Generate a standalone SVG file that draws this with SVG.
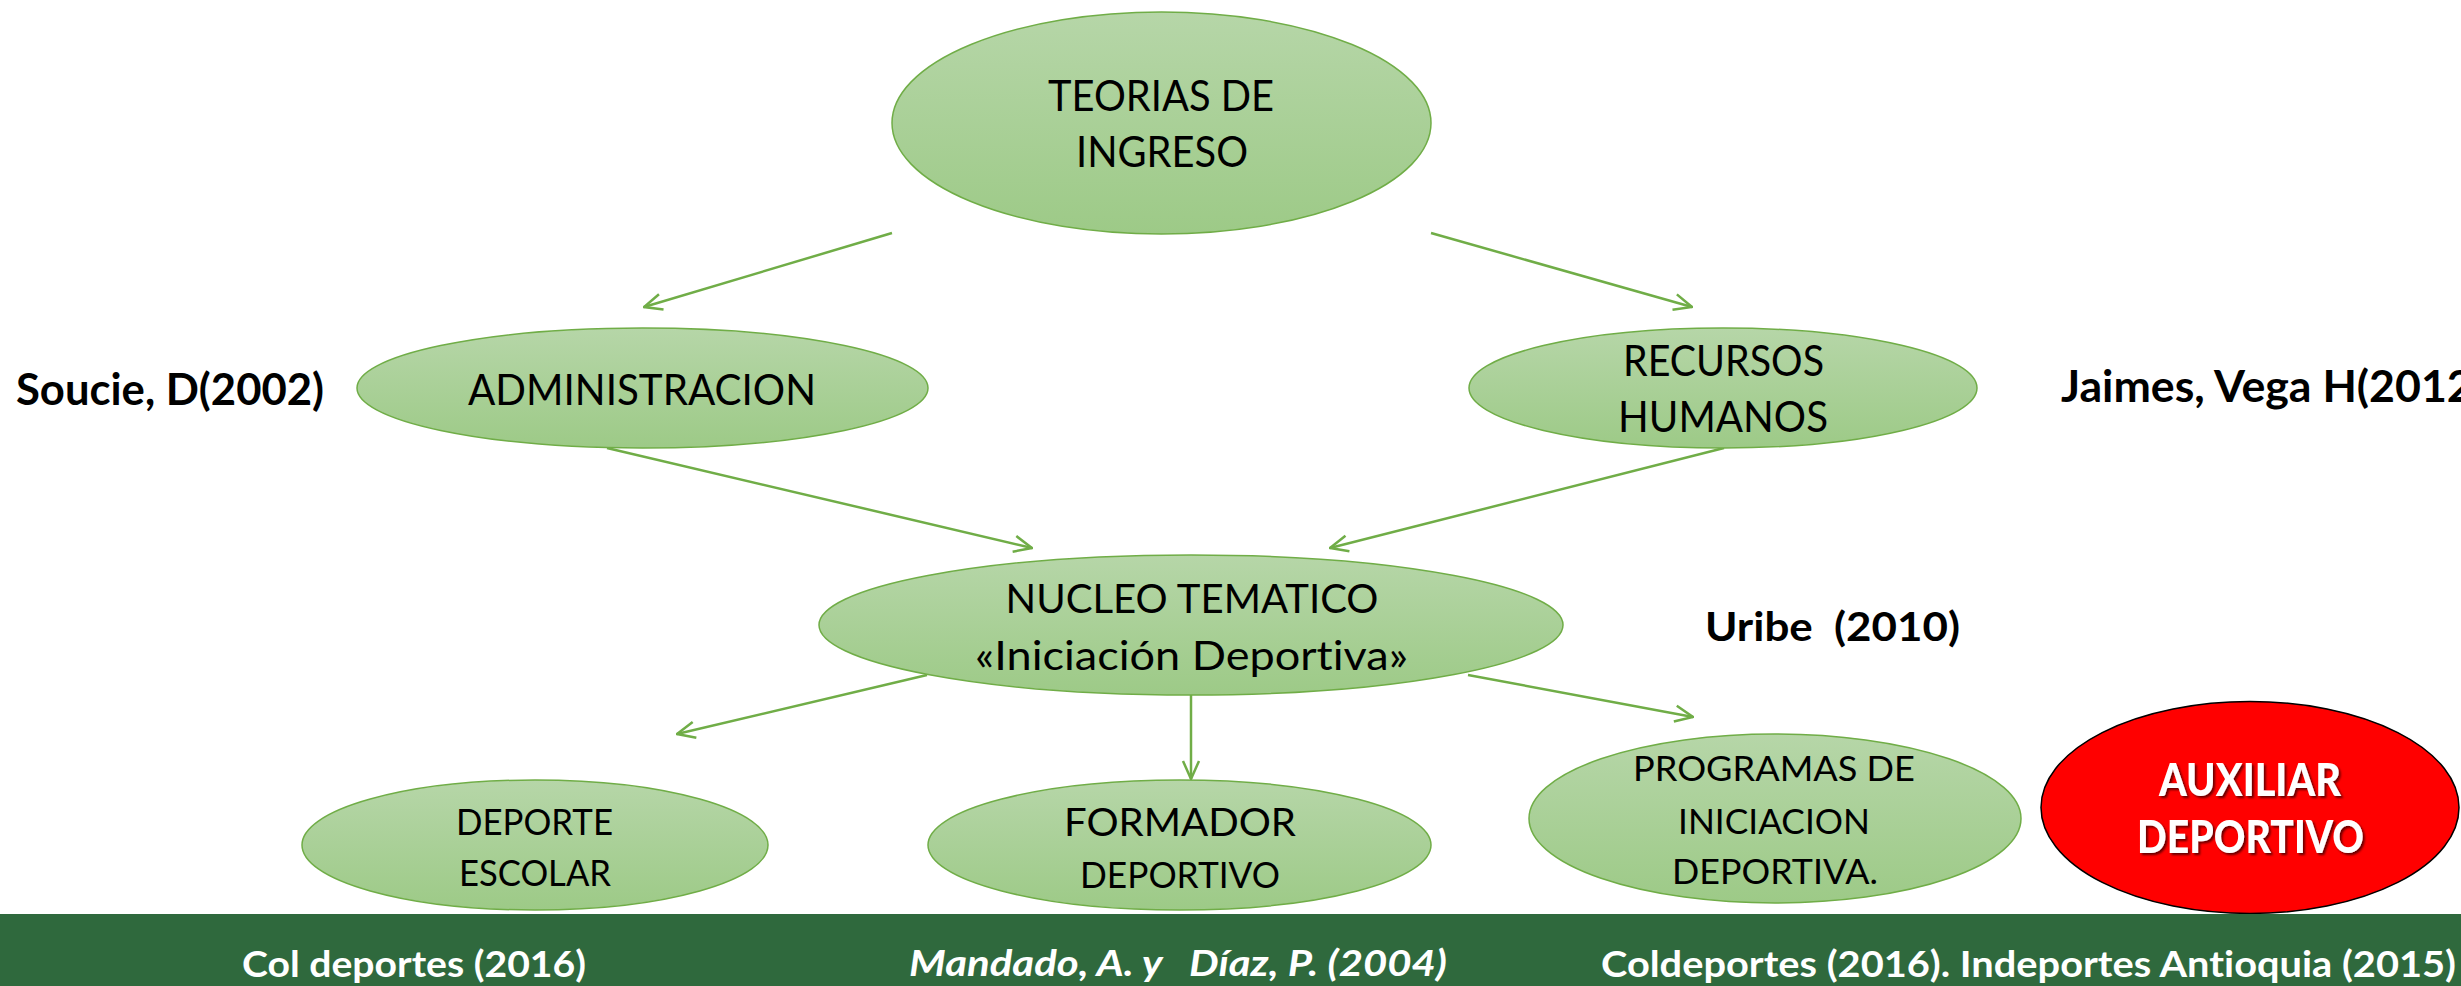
<svg xmlns="http://www.w3.org/2000/svg" width="2461" height="986" viewBox="0 0 2461 986">
<defs>
<linearGradient id="gfill" x1="0" y1="0" x2="0" y2="1">
<stop offset="0" stop-color="#B6D6A8"/>
<stop offset="1" stop-color="#9DCA87"/>
</linearGradient>
<marker id="arr" viewBox="0 0 20 20" refX="19" refY="10" markerWidth="20" markerHeight="20" markerUnits="userSpaceOnUse" orient="auto">
<path d="M1,2 L19,10 L1,18" fill="none" stroke="#70AD47" stroke-width="2.5"/>
</marker>
<filter id="shadow" x="-20%" y="-20%" width="140%" height="140%">
<feDropShadow dx="2" dy="2" stdDeviation="1.2" flood-color="#000" flood-opacity="0.6"/>
</filter>
<style>
text{font-variant-ligatures:none;font-feature-settings:"liga" 0}
.node{fill:url(#gfill);stroke:#70AD47;stroke-width:1.5}
.lbl{font-family:Lato,"Open Sans","Liberation Sans",sans-serif;fill:#000;text-anchor:middle}
.ref{font-family:Lato,"Open Sans","Liberation Sans",sans-serif;font-weight:bold;fill:#000}
.band{font-family:Lato,"Open Sans","Liberation Sans",sans-serif;font-weight:bold;fill:#fff}
.conn line{stroke:#70AD47;stroke-width:2.5;marker-end:url(#arr)}
</style>
</defs>
<rect x="0" y="0" width="2461" height="986" fill="#fff"/>

<g id="connectors" class="conn">
<line x1="892" y1="233" x2="644" y2="307"/>
<line x1="1431" y1="233" x2="1692" y2="307"/>
<line x1="607" y1="448" x2="1032" y2="548"/>
<line x1="1724" y1="448" x2="1330" y2="548"/>
<line x1="927" y1="675" x2="677" y2="734"/>
<line x1="1191" y1="695" x2="1191" y2="779"/>
<line x1="1468" y1="675" x2="1693" y2="717"/>
</g>

<g id="teorias">
<ellipse class="node" cx="1161.5" cy="123" rx="269.5" ry="111"/>
<text class="lbl" x="1161" y="111" font-size="42" textLength="226" lengthAdjust="spacingAndGlyphs">TEORIAS DE</text>
<text class="lbl" x="1162" y="167" font-size="42" textLength="172" lengthAdjust="spacingAndGlyphs">INGRESO</text>
</g>

<g id="administracion">
<ellipse class="node" cx="642.5" cy="388" rx="285.5" ry="60"/>
<text class="lbl" x="642" y="405" font-size="42" textLength="348" lengthAdjust="spacingAndGlyphs">ADMINISTRACION</text>
</g>

<g id="recursos">
<ellipse class="node" cx="1723" cy="388" rx="254" ry="60"/>
<text class="lbl" x="1723.5" y="376" font-size="42" textLength="201" lengthAdjust="spacingAndGlyphs">RECURSOS</text>
<text class="lbl" x="1723" y="432" font-size="42" textLength="210" lengthAdjust="spacingAndGlyphs">HUMANOS</text>
</g>

<g id="nucleo">
<ellipse class="node" cx="1191" cy="625" rx="372" ry="70"/>
<text class="lbl" x="1192" y="613" font-size="41" textLength="373" lengthAdjust="spacingAndGlyphs">NUCLEO TEMATICO</text>
<text class="lbl" x="1191.5" y="670" font-size="41" textLength="433" lengthAdjust="spacingAndGlyphs">«Iniciación Deportiva»</text>
</g>

<g id="deporte-escolar">
<ellipse class="node" cx="535" cy="845" rx="233" ry="65"/>
<text class="lbl" x="534.5" y="835" font-size="36" textLength="157" lengthAdjust="spacingAndGlyphs">DEPORTE</text>
<text class="lbl" x="535" y="886" font-size="36" textLength="152" lengthAdjust="spacingAndGlyphs">ESCOLAR</text>
</g>

<g id="formador">
<ellipse class="node" cx="1179.5" cy="845" rx="251.5" ry="65"/>
<text class="lbl" x="1180" y="836" font-size="38.5" textLength="232" lengthAdjust="spacingAndGlyphs">FORMADOR</text>
<text class="lbl" x="1180" y="888" font-size="36" textLength="200" lengthAdjust="spacingAndGlyphs">DEPORTIVO</text>
</g>

<g id="programas">
<ellipse class="node" cx="1775" cy="818.5" rx="246" ry="84.5"/>
<text class="lbl" x="1774" y="781" font-size="35" textLength="282" lengthAdjust="spacingAndGlyphs">PROGRAMAS DE</text>
<text class="lbl" x="1774" y="834" font-size="35" textLength="192" lengthAdjust="spacingAndGlyphs">INICIACION</text>
<text class="lbl" x="1775" y="884" font-size="35" textLength="206" lengthAdjust="spacingAndGlyphs">DEPORTIVA.</text>
</g>

<g id="auxiliar">
<ellipse cx="2250" cy="807.5" rx="209" ry="106" fill="#FF0000" stroke="#000" stroke-width="1.5"/>
<g filter="url(#shadow)">
<text x="2250" y="796" font-family="Lato,'Open Sans','Liberation Sans',sans-serif" font-weight="900" font-size="46" fill="#fff" text-anchor="middle" textLength="182" lengthAdjust="spacingAndGlyphs">AUXILIAR</text>
<text x="2250.5" y="853" font-family="Lato,'Open Sans','Liberation Sans',sans-serif" font-weight="900" font-size="46" fill="#fff" text-anchor="middle" textLength="227" lengthAdjust="spacingAndGlyphs">DEPORTIVO</text>
</g>
</g>

<g id="refs">
<text class="ref" x="16" y="405" font-size="43" textLength="308" lengthAdjust="spacingAndGlyphs">Soucie, D(2002)</text>
<text class="ref" x="2061" y="402" font-size="43" textLength="424" lengthAdjust="spacingAndGlyphs">Jaimes, Vega H(2012)</text>
<text class="ref" x="1705" y="641" font-size="41" textLength="255" lengthAdjust="spacingAndGlyphs" xml:space="preserve">Uribe  (2010)</text>
</g>

<g id="footer">
<rect x="0" y="914" width="2461" height="72" fill="#2F693D"/>
<text class="band" x="242" y="977" font-size="36" textLength="344" lengthAdjust="spacingAndGlyphs">Col deportes (2016)</text>
<text class="band" x="909" y="976" font-size="36" font-style="italic" textLength="538" lengthAdjust="spacingAndGlyphs" xml:space="preserve">Mandado, A. y   Díaz, P. (2004)</text>
<text class="band" x="1601" y="977" font-size="36" textLength="855" lengthAdjust="spacingAndGlyphs">Coldeportes (2016). Indeportes Antioquia (2015)</text>
</g>
</svg>
